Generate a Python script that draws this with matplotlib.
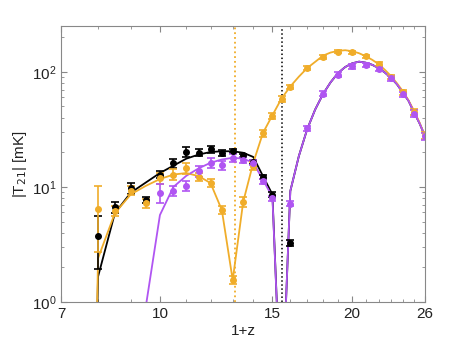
import numpy as np
import matplotlib.pyplot as plt

plt.rcParams['font.family'] = ['Liberation Sans', 'DejaVu Sans']

# black data (up to 1+z = 16)
black_z = [8, 8.5, 9, 9.5, 10, 10.5, 11, 11.5, 12, 12.5, 13, 13.5, 14, 14.5, 15, 16]
black_T = [3.76, 6.65, 9.8, 7.75, 12.8, 16.0, 20.1, 19.8, 21.2, 19.8, 20.5, 18.9, 16.4, 12.2, 8.57, 3.25]
black_err = [1.83, 0.7, 1.1, 0.5, 0.9, 1.5, 2.0, 1.4, 1.5, 1.1, 0.9, 0.6, 0.7, 0.6, 0.4, 0.2]

# orange data
orange_z = [8, 8.5, 9, 9.5, 10, 10.5, 11, 11.5, 12, 12.5, 13, 13.5, 14, 14.5, 15, 15.5,
            16, 17, 18, 19, 20, 21, 22, 23, 24, 25, 26]
orange_T = [6.4, 6.2, 9.3, 7.2, 12.0, 12.8, 14.6, 12.2, 10.8, 6.3, 1.56, 7.4, 15.3, 29.2, 41.6, 58.2,
            73.9, 107.6, 135, 150, 148, 136.5, 116.6, 90.7, 66.6, 44.8, 28.1]
orange_err = [3.7, 0.6, 0.8, 0.6, 1.3, 1.4, 1.6, 1.0, 0.9, 0.5, 0.12, 0.7, 1.2, 2.2, 2.4, 3.0,
              3.5, 4.5, 5.0, 5.0, 5.0, 4.5, 5.0, 4.0, 3.5, 2.8, 2.0]

# purple data
purple_z = [10, 10.5, 11, 11.5, 12, 12.5, 13, 13.5, 14, 14.5, 15, 16, 17, 18, 19, 20, 21, 22,
            23, 24, 25, 26]
purple_T = [8.9, 9.2, 10.2, 13.7, 16.2, 15.5, 17.9, 17.1, 16.2, 11.2, 8.0, 7.16, 32.3, 64.7, 94.2,
            111.3, 115, 106.6, 87.5, 63.9, 43.2, 27.6]
purple_err = [1.7, 0.9, 1.0, 1.4, 1.5, 1.4, 1.3, 1.1, 0.8, 0.6, 0.4, 0.4, 1.5, 3.0, 4.5,
              5.0, 5.0, 4.5, 4.0, 3.5, 3.0, 2.0]

# model curves
model_z = [7.95, 8, 8.5, 9, 9.5, 10, 10.5, 11, 11.5, 12, 12.5, 13, 13.5, 14, 14.5, 15, 15.5,
           16, 16.5, 17, 17.5, 18, 18.5, 19, 19.5, 20, 20.5, 21, 21.5, 22, 22.5, 23, 23.5,
           24, 24.5, 25, 25.5, 26]
orange_model = [0.4, 2.4, 5.9, 8.6, 10.2, 11.7, 12.8, 13.2, 12.4, 10.8, 6.3, 1.55, 7.4, 16.2,
                29.5, 41.9, 58.5, 74.6, 90.7, 107.6, 122, 138, 147, 152, 154, 151, 145, 136.5,
                127, 116.6, 104, 92, 79.5, 67.9, 56.5, 45.7, 36.1, 27.6]
purple_model = [0.1, 0.1, 0.1, 0.1, 0.9, 5.7, 10.0, 12.5, 14.5, 16.2, 17.3, 17.9, 17.6, 16.2,
                11.5, 8.2, 0.1, 9.2, 18.5, 31.6, 47, 64, 81, 97.5, 110, 118.5, 122.5, 120,
                115, 107.6, 98.5, 88.6, 78, 66, 56, 44.3, 35.6, 27.6]
black_model = [0.3, 1.66, 5.9, 8.9, 10.9, 13.2, 15.3, 17.6, 19.1, 20.1, 20.4, 20.4, 19.8, 18.2,
               12.4, 8.6, 0.1, 9.2, 18.5, 31.6, 47, 64, 81, 97.5, 110, 118.5, 122.5, 120,
               115, 107.6, 98.5, 88.6, 78, 66, 56, 44.3, 35.6, 27.6]

orange_line_z = 13.1
black_line_z = 15.5

xticks = [7, 10, 15, 20, 26]

orange = '#F0AD2A'
purple = '#B055F2'
black = 'black'

fig = plt.figure(figsize=(4.71, 3.48), dpi=100)
ax = fig.add_axes([0.1295, 0.1322, 0.7728, 0.7931])

# vertical reference lines
ax.axvline(orange_line_z, color=orange, linestyle=':', linewidth=1.3)
ax.axvline(black_line_z, color=black, linestyle=':', linewidth=1.1)

# models
ax.plot(model_z, black_model, color=black, linewidth=1.3)
ax.plot(model_z, orange_model, color=orange, linewidth=1.3)
ax.plot(model_z, purple_model, color=purple, linewidth=1.3)

# data with error bars
ebkw = dict(fmt='o', markersize=4, capsize=3, elinewidth=1.2, capthick=1.2)
ax.errorbar(black_z, black_T, yerr=black_err, color=black, **ebkw)
ax.errorbar(orange_z, orange_T, yerr=orange_err, color=orange, **ebkw)
ax.errorbar(purple_z, purple_T, yerr=purple_err, color=purple, **ebkw)

ax.set_xscale('log')
ax.set_yscale('log')
ax.set_xlim(7, 26)
ax.set_ylim(1, 250)
ax.set_xticks(xticks)
ax.set_xticklabels([str(t) for t in xticks])
ax.set_xticks(list(range(8, 26)), minor=True)
ax.xaxis.set_minor_formatter(plt.NullFormatter())

for s in ax.spines.values():
    s.set_color('#888888')
ax.tick_params(which='both', direction='in', top=True, right=True, color='#888888',
               labelsize=11, labelcolor='#222222')
ax.tick_params(which='major', length=4)
ax.tick_params(which='minor', length=2.5)

ax.set_xlabel('1+z', fontsize=11, color='#222222', labelpad=2)
ax.set_ylabel('|T$_{21}$| [mK]', fontsize=11, color='#222222', labelpad=2)

fig.savefig('out.png', dpi=100)
